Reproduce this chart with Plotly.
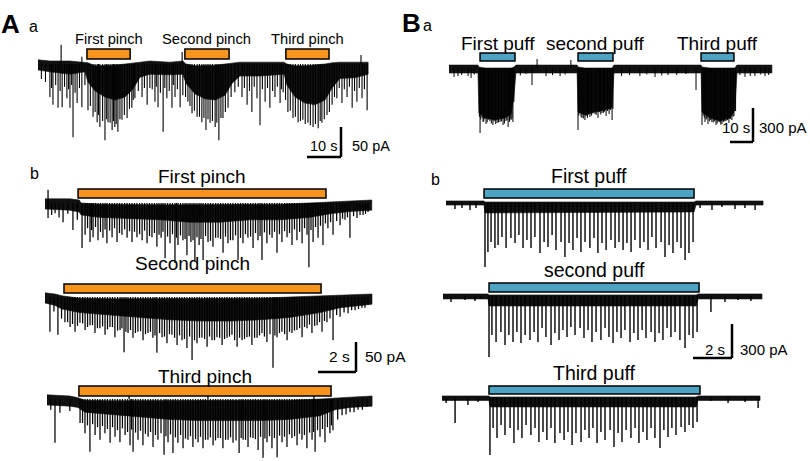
import plotly.graph_objects as go

W, H = 810, 461
FONT = "Liberation Sans, Arial, sans-serif"
ORANGE = "#F7941D"
BLUE = "#4DA3C2"
INK = "#000000"

# ---------------- Aa: whole recording, three pinches (time s, current pA) -------------
aa_env_t = [0, 3.5, 9.4, 13.8, 14.7, 16.8, 19.7, 22.6, 25.6, 27.9, 30.0, 32.9, 38.8, 42.6, 43.5, 46.2,
            49.1, 52.1, 55.0, 57.1, 59.4, 65.3, 72.4, 73.2, 75.6, 78.5, 81.5, 84.4, 86.5, 88.8, 93.2, 97.1]
aa_env_lo = [-10, -13, -17, -13, -30, -45, -55, -60, -55, -42, -22, -17, -18, -17, -32, -50,
             -58, -60, -52, -32, -20, -20, -17, -35, -55, -65, -68, -60, -40, -24, -23, -17]
aa_env_hi = [7, 5, 5, 3, 2, -3, -3, -2, 0, 2, 3, 5, 3, 5, 0, -3,
             -3, -2, 0, 2, 3, 3, 3, 0, -3, -3, -2, 0, 2, 3, 3, 3]
aa_ev_t = [3.5, 4.4, 5.9, 7.1, 8.5, 9.4, 10.3, 11.5, 12.9, 14.7, 16.2, 17.4, 18.2, 19.7, 20.6, 21.8,
           22.6, 23.5, 24.7, 26.2, 27.6, 28.5, 30.6, 32.1, 32.9, 34.4, 35.3, 36.8, 37.9, 39.4, 40.3,
           41.8, 42.6, 44.1, 45.3, 46.8, 48.2, 49.4, 50.6, 52.1, 53.2, 54.4, 55.9, 57.9, 60.0, 61.5,
           62.9, 64.4, 65.3, 66.8, 68.2, 69.7, 71.2, 72.1, 73.5, 75.0, 76.5, 77.9, 79.4, 80.9, 82.4,
           83.5, 85.0, 86.5, 87.9, 89.4, 90.9, 92.4, 93.8, 95.3, 96.8, 6.8, 12.9, 42.4, 95.0]
aa_ev_a = [-55, -68, -73, -72, -57, -73, -122, -65, -72, -77, -88, -97, -105, -127, -97, -110,
           -105, -113, -93, -90, -73, -57, -55, -68, -40, -63, -72, -113, -57, -73, -55,
           -72, -52, -63, -82, -88, -97, -110, -98, -105, -127, -90, -73, -47, -55, -68,
           -80, -57, -102, -63, -73, -55, -65, -47, -80, -90, -97, -93, -98, -105, -107,
           -98, -85, -68, -57, -65, -55, -73, -63, -57, -77, 32, 12, 20, 15]
aa_minor_t = [1.0, 2.2, 4.0, 5.2, 6.5, 7.8, 9.0, 9.9, 10.9, 12.2,
              13.8, 15.4, 16.8, 17.8, 19.0, 20.2, 21.2, 22.2, 23.0, 24.1,
              25.4, 26.9, 28.0, 29.5, 31.3, 33.6, 34.8, 36.0, 37.3, 38.6,
              39.8, 41.0, 43.4, 44.7, 46.0, 47.5, 48.8, 50.0, 51.3, 52.6,
              53.8, 55.1, 56.8, 58.9, 60.7, 62.2, 63.6, 66.0, 67.5, 69.0,
              70.4, 71.6, 72.8, 74.2, 75.7, 77.2, 78.6, 80.1, 81.6, 83.0,
              84.2, 85.7, 87.2, 88.6, 90.1, 91.6, 93.1, 94.5, 96.0]
aa_minor_a = [-25, -30, -40, -35, -45, -38, -42, -35, -48, -40,
              -35, -70, -80, -85, -95, -92, -98, -95, -100, -92,
              -85, -75, -60, -45, -40, -42, -38, -48, -40, -45,
              -35, -42, -55, -70, -78, -88, -90, -92, -95, -98,
              -90, -80, -55, -38, -40, -45, -38, -42, -40, -45,
              -38, -42, -60, -78, -88, -95, -100, -102, -100, -95,
              -92, -80, -55, -40, -42, -38, -45, -40, -42]
aa_bars = [(14.4, 27.1), (43.2, 56.2), (72.9, 85.6)]
aa_labels = ["First pinch", "Second pinch", "Third pinch"]
aa_scale = (10, 50, "10 s", "50 pA")

# ---------------- Ba: whole recording, three puffs ----------------
ba_env_t = [0, 12.6, 13.0, 15.7, 20.0, 24.3, 27.0, 28.3, 29.1, 55.7, 56.1, 59.1, 63.5, 67.8, 70.9,
            71.7, 109.6, 110.0, 113.5, 117.8, 122.2, 124.3, 125.2, 140.4]
ba_env_lo = [-44, -44, -397, -441, -459, -441, -406, -238, -44, -44, -388, -415, -388, -371, -353,
             -44, -44, -388, -441, -468, -441, -371, -44, -44]
ba_env_hi = [26, 26, 9, 0, 0, 0, 0, 9, 26, 26, 9, 0, 0, 0, 0, 26, 26, 9, 0, 0, 0, 0, 26, 26]
ba_ev_t = [13.5, 14.8, 16.1, 17.8, 19.1, 20.9, 22.2, 23.5, 24.8, 25.7, 27.0, 27.8,
           56.1, 57.8, 59.1, 61.3, 63.5, 64.8, 66.5, 68.3, 69.6, 70.9,
           110.0, 111.3, 112.6, 114.3, 116.1, 117.4, 118.7, 120.4, 121.7, 123.0, 123.9,
           2.2, 3.9, 8.3, 9.6, 36.1, 42.2, 48.3, 83.0, 89.6, 95.2, 107.4, 128.7, 133.0, 137.4,
           38.3, 53.0]
ba_ev_a = [-574, -477, -494, -468, -503, -485, -477, -503, -468, -521, -459, -477,
           -547, -441, -459, -432, -406, -441, -397, -424, -406, -459,
           -503, -477, -494, -477, -503, -477, -494, -468, -485, -459, -424,
           -79, -71, -71, -88, -150, -71, -71, -71, -79, -62, -194, -79, -71, -71,
           79, 71]
ba_minor_t = [13.2, 13.8, 14.4, 15.1, 15.5, 16.6, 17.2, 18.4, 19.6, 20.3, 21.5, 22.8, 24.1, 25.2,
              26.3, 26.6, 27.4, 28.2,
              56.4, 56.8, 57.4, 58.4, 59.6, 60.2, 60.8, 62.0, 62.6, 64.0, 65.5, 66.0, 67.2, 67.6,
              68.9, 70.2, 71.3,
              110.5, 111.0, 111.8, 112.1, 113.2, 113.8, 114.9, 115.5, 116.6, 117.9, 118.2, 119.4,
              119.9, 121.1, 122.4, 123.5, 124.6,
              5.5, 11.0, 31.0, 33.5, 45.0, 50.5, 75.0, 78.5, 86.0, 92.5, 99.0, 103.0, 126.5, 131.0,
              135.5, 139.0]
ba_minor_a = [-430, -455, -440, -470, -450, -480, -455, -490, -470, -495, -480, -470, -490, -460,
              -475, -450, -445, -300,
              -420, -400, -430, -445, -425, -440, -410, -420, -400, -415, -390, -410, -395, -385,
              -380, -370, -360,
              -420, -440, -455, -445, -470, -460, -480, -470, -490, -480, -500, -475,
              -470, -460, -450, -430, -380,
              -62, -57, -66, -53, -62, -57, -70, -62, -57, -66, -62, -53, -62, -70,
              -57, -62]
ba_bars = [(13.5, 28.7), (56.1, 71.3), (109.6, 123.9)]
ba_labels = ["First puff", "second puff", "Third puff"]
ba_scale = (10, 300, "10 s", "300 pA")

# ---------------- Ab: expanded pinch responses ----------------
ab1_env_t = [0, 1.3, 1.8, 1.9, 2.9, 4.5, 6.1, 7.6, 9.2, 10.8, 12.4, 13.9, 15.0, 16.1, 17.2]
ab1_env_lo = [-10, -12, -15, -20, -24, -26, -28, -32, -32, -28, -28, -24, -18, -14, -12]
ab1_env_hi = [7, 7, 5, 0, -2, -3, -3, -3, -3, -2, -2, 0, 2, 3, 5]
ab1_ev_t = [0.16, 0.53, 0.95, 1.47, 1.95, 2.11, 2.37, 2.53, 2.79, 3.05, 3.26, 3.53, 3.79, 4.05, 4.32,
            4.58, 4.84, 5.11, 5.37, 5.63, 5.89, 6.11, 6.32, 6.58, 6.84, 7.00, 7.26, 7.47, 7.68, 7.89,
            8.11, 8.32, 8.58, 8.84, 9.11, 9.37, 9.63, 9.89, 10.16, 10.42, 10.68, 10.95, 11.21, 11.42,
            11.68, 11.95, 12.21, 12.47, 12.74, 13.00, 13.26, 13.53, 13.79, 13.89, 14.11, 14.37, 14.63,
            14.89, 15.16, 15.53, 15.79, 16.05, 16.42, 16.74, 17.00, 0.16]
ab1_ev_a = [-25, -17, -32, -45, -75, -53, -65, -57, -62, -58, -67, -57, -65, -53, -58,
            -65, -57, -62, -67, -57, -73, -58, -92, -67, -100, -70, -62, -87, -65, -98,
            -70, -95, -65, -73, -58, -83, -67, -62, -95, -67, -58, -75, -62, -95,
            -67, -58, -83, -65, -57, -70, -62, -67, -53, -107, -65, -58, -70,
            -42, -53, -37, -28, -58, -25, -20, -15, 22]
ab1_minor_t = [0.35, 0.74, 1.20, 1.70, 2.24, 2.45, 2.66, 2.92, 3.16, 3.40, 3.66, 3.92, 4.19, 4.45,
               4.71, 4.98, 5.24, 5.50, 5.76, 6.00, 6.21, 6.45, 6.71, 6.92, 7.13, 7.37, 7.58, 7.79,
               8.00, 8.21, 8.45, 8.71, 8.98, 9.24, 9.50, 9.76, 10.03, 10.29, 10.55, 10.82, 11.08,
               11.32, 11.55, 11.82, 12.08, 12.34, 12.61, 12.87, 13.13, 13.40, 13.66, 14.00, 14.24,
               14.50, 14.76, 15.03, 15.35, 15.66, 15.92, 16.24, 16.58, 16.87]
ab1_minor_a = [-20, -24, -18, -28, -42, -45, -40, -48, -44, -46, -42, -50, -44, -47,
               -48, -52, -46, -55, -50, -53, -48, -56, -52, -58, -54, -60, -55, -62,
               -57, -60, -55, -63, -58, -60, -56, -62, -54, -58, -52, -56, -50,
               -55, -49, -53, -48, -52, -47, -50, -44, -48, -42, -45, -40,
               -38, -34, -32, -30, -26, -24, -22, -20, -18]
ab1_bars = [(1.74, 14.79)]

ab2_env_t = [0, 0.53, 0.89, 1.84, 3.42, 5.0, 6.58, 8.16, 9.74, 11.32, 12.89, 14.47, 15.53, 16.58, 17.21]
ab2_env_lo = [-10, -14, -20, -26, -30, -34, -38, -40, -40, -38, -34, -26, -18, -14, -12]
ab2_env_hi = [7, 5, 2, -2, -3, -3, -3, -3, -3, -2, 0, 2, 3, 5, 5]
ab2_ev_t = [0.26, 0.68, 1.05, 1.32, 1.58, 1.84, 2.11, 2.37, 2.63, 2.89, 3.16, 3.42, 3.68, 3.95, 4.16,
            4.37, 4.63, 4.89, 5.16, 5.42, 5.68, 5.89, 6.16, 6.42, 6.68, 6.95, 7.21, 7.47, 7.74, 8.00,
            8.26, 8.53, 8.79, 9.05, 9.32, 9.58, 9.84, 10.11, 10.37, 10.63, 10.89, 11.16, 11.42, 11.68,
            12.00, 12.21, 12.47, 12.74, 13.00, 13.26, 13.53, 13.79, 14.05, 14.32, 14.58, 14.84, 15.16,
            15.53, 15.95, 16.32, 16.68, 17.00]
ab2_ev_a = [-58, -63, -42, -50, -58, -43, -55, -47, -60, -52, -63, -50, -67, -55, -92,
            -60, -68, -58, -72, -60, -68, -93, -67, -77, -63, -80, -72, -85, -105, -77,
            -68, -83, -72, -67, -80, -68, -63, -83, -72, -67, -80, -68, -60, -75,
            -118, -67, -58, -72, -60, -55, -67, -52, -60, -47, -58, -42, -72,
            -33, -27, -22, -18, -13]
ab2_minor_t = [0.47, 0.87, 1.19, 1.45, 1.71, 1.98, 2.24, 2.50, 2.76, 3.03,
               3.29, 3.55, 3.82, 4.05, 4.26, 4.50, 4.76, 5.03, 5.29, 5.55,
               5.79, 6.03, 6.29, 6.55, 6.82, 7.08, 7.34, 7.61, 7.87, 8.13,
               8.40, 8.66, 8.92, 9.19, 9.45, 9.71, 9.98, 10.24, 10.50, 10.76,
               11.03, 11.29, 11.55, 11.84, 12.10, 12.34, 12.61, 12.87, 13.13, 13.40,
               13.66, 13.92, 14.19, 14.45, 14.71, 15.00, 15.35, 15.74, 16.14, 16.50, 16.84]
ab2_minor_a = [-24, -36, -42, -45, -48, -44, -50, -47, -52, -49,
               -54, -50, -56, -52, -58, -55, -60, -57, -62, -58,
               -64, -60, -66, -62, -68, -64, -70, -66, -72, -68,
               -70, -66, -72, -68, -70, -66, -72, -68, -70, -66,
               -68, -64, -66, -62, -64, -60, -62, -58, -56, -52,
               -50, -46, -48, -42, -40, -36, -30, -26, -22, -20, -18]
ab2_bars = [(1.0, 14.53)]

ab3_env_t = [0, 1.21, 1.63, 2.0, 3.32, 4.89, 6.47, 8.05, 9.63, 11.21, 12.79, 14.37, 15.16, 15.95, 17.11]
ab3_env_lo = [-10, -12, -14, -22, -26, -30, -34, -36, -36, -36, -34, -28, -18, -14, -12]
ab3_env_hi = [7, 5, 2, -2, -3, -3, -3, -3, -3, -3, -2, 0, 2, 3, 5]
ab3_ev_t = [0.42, 0.68, 1.74, 2.00, 2.26, 2.53, 2.79, 3.05, 3.32, 3.58, 3.84, 4.11, 4.37, 4.53, 4.79,
            5.05, 5.32, 5.58, 5.84, 6.16, 6.37, 6.63, 6.89, 7.16, 7.42, 7.68, 7.95, 8.21, 8.47, 8.74,
            9.00, 9.26, 9.53, 9.79, 10.11, 10.32, 10.58, 10.84, 11.11, 11.37, 11.58, 11.84, 12.11,
            12.37, 12.63, 12.89, 13.16, 13.42, 13.68, 13.95, 14.11, 14.37, 14.63, 14.89, 15.05,
            15.53, 15.95, 16.37, 16.84, 4.32, 8.47, 14.05]
ab3_ev_a = [-73, -23, -40, -57, -88, -60, -68, -57, -73, -63, -72, -60, -77, -88, -68,
            -77, -63, -80, -68, -93, -72, -90, -73, -82, -68, -80, -72, -82, -68, -77,
            -65, -82, -68, -73, -90, -68, -80, -65, -85, -98, -72, -82, -97,
            -72, -80, -65, -77, -68, -82, -68, -88, -63, -72, -57, -52,
            -27, -22, -18, -13, 22, 22, 22]
ab3_minor_t = [1.20, 1.87, 2.13, 2.40, 2.66, 2.92, 3.18, 3.45, 3.71, 3.97,
               4.24, 4.45, 4.66, 4.92, 5.18, 5.45, 5.71, 6.00, 6.26, 6.50,
               6.76, 7.03, 7.29, 7.55, 7.82, 8.08, 8.34, 8.60, 8.87, 9.13,
               9.40, 9.66, 9.95, 10.22, 10.45, 10.71, 10.97, 11.24, 11.47, 11.71,
               11.97, 12.24, 12.50, 12.76, 13.03, 13.29, 13.55, 13.82, 14.03, 14.24,
               14.50, 14.76, 14.97, 15.30, 15.74, 16.16, 16.60, 0.20]
ab3_minor_a = [-20, -40, -44, -42, -47, -45, -50, -47, -52, -49,
               -55, -51, -56, -53, -58, -55, -60, -57, -62, -59,
               -64, -60, -66, -62, -67, -63, -68, -64, -69, -65,
               -68, -64, -69, -65, -68, -64, -67, -63, -66, -62,
               -65, -61, -63, -59, -62, -58, -60, -56, -55, -52,
               -50, -47, -44, -34, -26, -22, -18, -18]
ab3_bars = [(1.68, 14.95)]
ab_scale = (2, 50, "2 s", "50 pA")

# ---------------- Bb: expanded puff responses ----------------
bb1_env_t = [0, 1.95, 2.0, 12.72, 12.82, 16.26]
bb1_env_lo = [-18, -18, -88, -79, -18, -18]
bb1_env_hi = [18, 18, 9, 9, 18, 18]
bb1_ev_t = [2.00, 2.15, 2.31, 2.51, 2.67, 2.87, 3.08, 3.33, 3.54, 3.74, 3.95, 4.15, 4.36, 4.56, 4.82,
            5.03, 5.23, 5.44, 5.64, 5.90, 6.10, 6.31, 6.51, 6.72, 6.92, 7.13, 7.38, 7.59, 7.79, 8.00,
            8.21, 8.46, 8.67, 8.87, 9.08, 9.28, 9.49, 9.69, 9.95, 10.15, 10.36, 10.56, 10.77, 11.03,
            11.23, 11.44, 11.64, 11.85, 12.05, 12.26, 12.46, 12.67,
            0.46, 0.82, 1.23, 1.54, 13.03, 13.64, 14.15, 14.82, 15.33, 15.85]
bb1_ev_a = [-565, -432, -344, -397, -371, -300, -397, -309, -353, -283, -397, -327, -397, -300, -441,
            -344, -388, -283, -415, -344, -477, -353, -415, -309, -432, -344, -397, -309, -441, -353,
            -415, -327, -397, -344, -415, -353, -432, -327, -397, -344, -415, -300, -397, -344,
            -477, -371, -441, -344, -397, -503, -441, -344,
            -53, -44, -62, -44, -44, -62, -35, -53, -44, -62]
bb1_bars = [(1.95, 12.72)]

bb2_env_t = [0, 2.31, 2.36, 12.98, 13.08, 16.36]
bb2_env_lo = [-26, -26, -88, -88, -26, -26]
bb2_env_hi = [18, 18, 9, 9, 18, 18]
bb2_ev_t = [2.36, 2.51, 2.72, 2.97, 3.18, 3.38, 3.59, 3.79, 4.00, 4.21, 4.46, 4.67, 4.87, 5.08, 5.28,
            5.54, 5.74, 5.95, 6.15, 6.36, 6.56, 6.77, 7.03, 7.23, 7.44, 7.64, 7.85, 8.10, 8.31, 8.51,
            8.72, 8.92, 9.13, 9.33, 9.59, 9.79, 10.00, 10.21, 10.41, 10.67, 10.87, 11.08, 11.28,
            11.49, 11.69, 11.90, 12.15, 12.41, 12.62, 12.82, 13.03,
            0.41, 1.13, 1.64, 1.95, 13.74, 14.46, 15.13, 15.79]
bb2_ev_a = [-538, -344, -406, -318, -432, -344, -406, -318, -415, -344, -388, -318, -406, -282, -362,
            -432, -327, -388, -300, -362, -274, -344, -282, -371, -300, -406, -318, -388, -282, -362,
            -415, -318, -371, -300, -406, -327, -388, -300, -371, -318, -406, -327, -388,
            -282, -362, -318, -388, -459, -344, -371, -318,
            -53, -35, -44, -26, -141, -53, -35, -44]
bb2_bars = [(2.36, 13.13)]

bb3_env_t = [0, 2.41, 2.46, 13.03, 13.13, 16.31]
bb3_env_lo = [-22, -22, -79, -79, -22, -22]
bb3_env_hi = [18, 18, 9, 9, 18, 18]
bb3_ev_t = [2.46, 2.62, 2.82, 3.03, 3.23, 3.49, 3.69, 3.90, 4.10, 4.31, 4.56, 4.77, 4.97, 5.18, 5.38,
            5.59, 5.79, 6.05, 6.26, 6.46, 6.67, 6.87, 7.13, 7.33, 7.54, 7.74, 7.95, 8.15, 8.36, 8.62,
            8.82, 9.03, 9.23, 9.44, 9.69, 9.90, 10.10, 10.31, 10.51, 10.72, 10.92, 11.18, 11.38,
            11.59, 11.79, 12.00, 12.26, 12.46, 12.67, 12.87, 13.08,
            0.67, 0.21, 1.33, 1.85, 13.79, 14.67, 15.54, 16.21]
bb3_ev_a = [-503, -265, -353, -238, -327, -265, -397, -282, -353, -238, -327, -265, -388, -300, -371,
            -265, -397, -309, -371, -300, -415, -309, -388, -282, -353, -265, -397, -300, -371, -282,
            -432, -309, -388, -282, -353, -265, -397, -300, -371, -265, -353, -441, -282,
            -344, -265, -327, -256, -300, -238, -265, -212,
            -221, -44, -62, -35, -26, -44, -35, -88]
bb3_bars = [(2.41, 13.23)]
bb_scale = (2, 300, "2 s", "300 pA")


# panel geometry in page pixels: origin = x of t=0, pps = px per s, base = y of 0 pA, ppa = px per pA
panels = [
    dict(env=(aa_env_t, aa_env_lo, aa_env_hi), ev=[(aa_ev_t, aa_ev_a), (aa_minor_t, aa_minor_a)],
         bars=aa_bars, labels=aa_labels, color=ORANGE, origin=38, pps=3.4, base=64, ppa=0.6,
         box=(34, 376, 38, 162), bar_px=(49, 59), label_y=39, label_size=14.7, lw=1.1),
    dict(env=(ba_env_t, ba_env_lo, ba_env_hi), ev=[(ba_ev_t, ba_ev_a), (ba_minor_t, ba_minor_a)],
         bars=ba_bars, labels=ba_labels, color=BLUE, origin=449, pps=2.3, base=68, ppa=34 / 300,
         box=(445, 778, 45, 152), bar_px=(53, 61), label_y=43, label_size=19, lw=1),
    dict(env=(ab1_env_t, ab1_env_lo, ab1_env_hi), ev=[(ab1_ev_t, ab1_ev_a), (ab1_minor_t, ab1_minor_a)],
         bars=ab1_bars, labels=["First pinch"], color=ORANGE, origin=45, pps=19, base=203, ppa=0.6,
         box=(42, 378, 186, 272), bar_px=(189, 198), label_y=176, label_size=19, lw=1.25),
    dict(env=(ab2_env_t, ab2_env_lo, ab2_env_hi), ev=[(ab2_ev_t, ab2_ev_a), (ab2_minor_t, ab2_minor_a)],
         bars=ab2_bars, labels=["Second pinch"], color=ORANGE, origin=45, pps=19, base=297, ppa=0.6,
         box=(42, 378, 288, 376), bar_px=(284, 293), label_y=263, label_size=19, lw=1.25),
    dict(env=(ab3_env_t, ab3_env_lo, ab3_env_hi), ev=[(ab3_ev_t, ab3_ev_a), (ab3_minor_t, ab3_minor_a)],
         bars=ab3_bars, labels=["Third pinch"], color=ORANGE, origin=47, pps=19, base=399, ppa=0.6,
         box=(42, 378, 384, 461), bar_px=(386, 396), label_y=376, label_size=19, lw=1.25),
    dict(env=(bb1_env_t, bb1_env_lo, bb1_env_hi), ev=[(bb1_ev_t, bb1_ev_a)],
         bars=bb1_bars, labels=["First puff"], color=BLUE, origin=446, pps=19.5, base=203, ppa=34 / 300,
         box=(438, 768, 195, 272), bar_px=(189, 198), label_y=176, label_size=19.5, lw=1.4),
    dict(env=(bb2_env_t, bb2_env_lo, bb2_env_hi), ev=[(bb2_ev_t, bb2_ev_a)],
         bars=bb2_bars, labels=["second puff"], color=BLUE, origin=443, pps=19.5, base=296, ppa=34 / 300,
         box=(438, 768, 290, 362), bar_px=(283, 292), label_y=270, label_size=19.5, lw=1.4),
    dict(env=(bb3_env_t, bb3_env_lo, bb3_env_hi), ev=[(bb3_ev_t, bb3_ev_a)],
         bars=bb3_bars, labels=["Third puff"], color=BLUE, origin=442, pps=19.5, base=398, ppa=34 / 300,
         box=(438, 768, 392, 461), bar_px=(386, 394), label_y=373, label_size=19.5, lw=1.4),
]

# which panel each scale bar lives in, its corner (px) and where its two labels go (px)
scalebars = [
    dict(panel=0, scale=aa_scale, corner=(341, 157), tpos=(323, 146), vpos=(350, 146), size=14.5),
    dict(panel=1, scale=ba_scale, corner=(753, 142), tpos=(736, 127), vpos=(757, 127), size=15),
    dict(panel=3, scale=ab_scale, corner=(356, 372), tpos=(339, 356), vpos=(363, 356), size=15.5),
    dict(panel=6, scale=bb_scale, corner=(732, 358), tpos=(715, 349), vpos=(738, 349), size=15),
]


def spike_path(ts, amps):
    xs, ys = [], []
    for t, a in zip(ts, amps):
        xs += [t, t, None]
        ys += [0, a, None]
    return xs, ys


def py(p):
    return 1 - p / H


fig = go.Figure()
shapes, annotations, axes = [], [], {}

for i, p in enumerate(panels, start=1):
    sfx = "" if i == 1 else str(i)
    xa, ya = "x" + sfx, "y" + sfx
    left, right, top, bottom = p["box"]
    o, s, b, k = p["origin"], p["pps"], p["base"], p["ppa"]
    axes["xaxis" + sfx] = dict(domain=[left / W, right / W], range=[(left - o) / s, (right - o) / s],
                               anchor=ya, visible=False, fixedrange=True)
    axes["yaxis" + sfx] = dict(domain=[py(bottom), py(top)], range=[(b - bottom) / k, (b - top) / k],
                               anchor=xa, visible=False, fixedrange=True)

    et, lo, hi = p["env"]
    fig.add_trace(go.Scatter(x=list(et) + list(et)[::-1], y=list(hi) + list(lo)[::-1], fill="toself",
                             fillcolor="#111111", mode="lines", line=dict(width=0.6, color="#111111"),
                             xaxis=xa, yaxis=ya, hoverinfo="skip", showlegend=False))
    for ts, amps in p["ev"]:
        sx, sy = spike_path(ts, amps)
        fig.add_trace(go.Scatter(x=sx, y=sy, mode="lines", line=dict(width=p["lw"], color=INK),
                                 xaxis=xa, yaxis=ya, hoverinfo="skip", showlegend=False))

    for (b0, b1), lab in zip(p["bars"], p["labels"]):
        shapes.append(dict(type="rect", xref=xa, yref="paper", x0=b0, x1=b1,
                           y0=py(p["bar_px"][1]), y1=py(p["bar_px"][0]),
                           fillcolor=p["color"], line=dict(color="black", width=1.5)))
        annotations.append(dict(text=lab, xref=xa, yref="paper", x=(b0 + b1) / 2, y=py(p["label_y"]),
                                showarrow=False, xanchor="center", yanchor="middle",
                                font=dict(family=FONT, size=p["label_size"], color="black")))

for sb in scalebars:
    p = panels[sb["panel"]]
    sfx = "" if sb["panel"] == 0 else str(sb["panel"] + 1)
    dt, dv, tlab, vlab = sb["scale"]
    ct = (sb["corner"][0] - p["origin"]) / p["pps"]
    cv = (p["base"] - sb["corner"][1]) / p["ppa"]
    line = dict(color="black", width=2.5)
    shapes.append(dict(type="line", xref="x" + sfx, yref="y" + sfx, x0=ct - dt, x1=ct, y0=cv, y1=cv, line=line))
    shapes.append(dict(type="line", xref="x" + sfx, yref="y" + sfx, x0=ct, x1=ct, y0=cv, y1=cv + dv, line=line))
    annotations.append(dict(text=tlab, xref="paper", yref="paper", x=sb["tpos"][0] / W, y=py(sb["tpos"][1]),
                            showarrow=False, xanchor="center", yanchor="middle",
                            font=dict(family=FONT, size=sb["size"], color="black")))
    annotations.append(dict(text=vlab, xref="paper", yref="paper", x=sb["vpos"][0] / W, y=py(sb["vpos"][1]),
                            showarrow=False, xanchor="left", yanchor="middle",
                            font=dict(family=FONT, size=sb["size"], color="black")))

# panel letters
for txt, x, y, size, bold in [("A", 10, 24, 26, True), ("a", 33.5, 26, 16, False),
                              ("B", 411, 23, 26, True), ("a", 428, 25, 16, False),
                              ("b", 34, 173, 16, False), ("b", 435, 180, 16, False)]:
    annotations.append(dict(text=f"<b>{txt}</b>" if bold else txt, xref="paper", yref="paper",
                            x=x / W, y=py(y), showarrow=False, xanchor="center", yanchor="middle",
                            font=dict(family=FONT, size=size, color="black")))

fig.update_layout(width=W, height=H, margin=dict(l=0, r=0, t=0, b=0),
                  paper_bgcolor="white", plot_bgcolor="white", showlegend=False,
                  shapes=shapes, annotations=annotations, **axes)

# the page body has a default 8px margin; drop it so the figure sits at the window corner
fig.write_html("out.html", config={"displayModeBar": False},
               post_script="document.body.style.margin='0';document.body.style.overflow='hidden';")
